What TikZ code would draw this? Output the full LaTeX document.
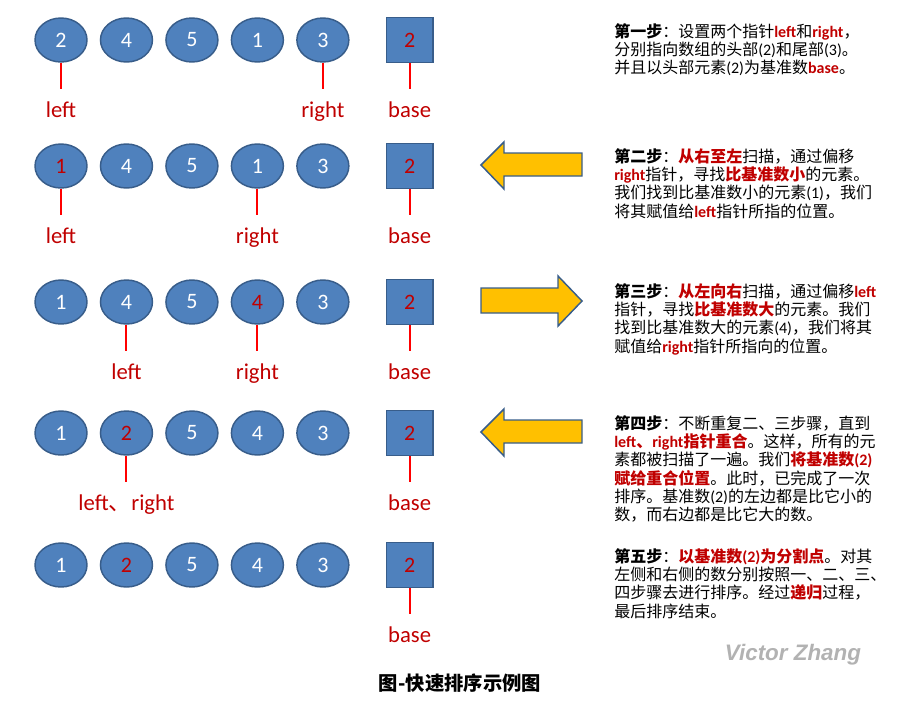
\documentclass[tikz,border=0pt]{standalone}
\usepackage{fontspec}
\usepackage{xcolor}
\usepackage{tikz}
\setmainfont{Carlito}
\newfontfamily\cjk{Noto Sans CJK SC}
\newfontfamily\markfont{Liberation Sans}
\definecolor{elemfill}{RGB}{79, 129, 189}
\definecolor{elemline}{RGB}{56, 93, 138}
\definecolor{hot}{RGB}{192, 0, 0}
\definecolor{ptrred}{RGB}{255, 0, 0}
\definecolor{arrowfill}{RGB}{255, 192, 0}
\usetikzlibrary{shapes,positioning}
\newcommand\lat[1]{{\rmfamily #1}}
\newcommand\redb[1]{{\color{hot}\bfseries #1}}

\tikzset{
    elem/.style={ellipse, draw=elemline, fill=elemfill, line width=1.1pt, minimum width=39pt, minimum height=33pt, inner sep=0pt, text=white, font=\fontsize{16.5pt}{19pt}\selectfont},
    pivot/.style={rectangle, draw=elemline, fill=elemfill, line width=1.1pt, minimum width=35pt, minimum height=34pt, inner sep=0pt, text=hot, font=\fontsize{16.5pt}{19pt}\selectfont},
    tag/.style={text=hot, inner sep=0pt, text height=14.25pt, text depth=4pt, font=\fontsize{17pt}{20pt}\selectfont},
    ptr/.style={draw=ptrred, line width=1.5pt, shorten >=6.75pt},
    bigarrow/.style={fill=arrowfill, draw=elemline, line width=1.1pt},
    note/.style={anchor=north west, inner sep=0pt, align=left, font=\cjk\fontsize{12pt}{13.75pt}\selectfont}
}

\begin{document}
\begin{tikzpicture}[x=0.75pt, y=-0.75pt, node distance=9pt]
    \useasboundingbox (0,0) rectangle (913,707);

    % step 1
    \node[elem] (a1) at (61,40) {2};
    \node[elem, right=of a1] (a2) {4};
    \node[elem, right=of a2] (a3) {5};
    \node[elem, right=of a3] (a4) {1};
    \node[elem, right=of a4] (a5) {3};
    \node[pivot, right=27pt of a5] (a6) {2};
    \node[tag, below=26.25pt of a1] (aleft) {left};
    \node[tag, below=26.25pt of a5] (aright) {right};
    \node[tag, below=26.25pt of a6] (abase) {base};
    \draw[ptr] (a1) -- (aleft);
    \draw[ptr] (a5) -- (aright);
    \draw[ptr] (a6) -- (abase);

    % step 2
    \node[elem] (b1) at (61,166) {\textcolor{hot}{1}};
    \node[elem, right=of b1] (b2) {4};
    \node[elem, right=of b2] (b3) {5};
    \node[elem, right=of b3] (b4) {1};
    \node[elem, right=of b4] (b5) {3};
    \node[pivot, right=27pt of b5] (b6) {2};
    \node[tag, below=26.25pt of b1] (bleft) {left};
    \node[tag, below=26.25pt of b4] (bright) {right};
    \node[tag, below=26.25pt of b6] (bbase) {base};
    \draw[ptr] (b1) -- (bleft);
    \draw[ptr] (b4) -- (bright);
    \draw[ptr] (b6) -- (bbase);

    % step 3
    \node[elem] (c1) at (61,302) {1};
    \node[elem, right=of c1] (c2) {4};
    \node[elem, right=of c2] (c3) {5};
    \node[elem, right=of c3] (c4) {\textcolor{hot}{4}};
    \node[elem, right=of c4] (c5) {3};
    \node[pivot, right=27pt of c5] (c6) {2};
    \node[tag, below=26.25pt of c2] (cleft) {left};
    \node[tag, below=26.25pt of c4] (cright) {right};
    \node[tag, below=26.25pt of c6] (cbase) {base};
    \draw[ptr] (c2) -- (cleft);
    \draw[ptr] (c4) -- (cright);
    \draw[ptr] (c6) -- (cbase);

    % step 4
    \node[elem] (d1) at (61,433) {1};
    \node[elem, right=of d1] (d2) {\textcolor{hot}{2}};
    \node[elem, right=of d2] (d3) {5};
    \node[elem, right=of d3] (d4) {4};
    \node[elem, right=of d4] (d5) {3};
    \node[pivot, right=27pt of d5] (d6) {2};
    \node[tag, below=26.25pt of d2] (dboth) {left{\cjk 、}right};
    \node[tag, below=26.25pt of d6] (dbase) {base};
    \draw[ptr] (d2) -- (dboth);
    \draw[ptr] (d6) -- (dbase);

    % step 5
    \node[elem] (e1) at (61,565) {1};
    \node[elem, right=of e1] (e2) {\textcolor{hot}{2}};
    \node[elem, right=of e2] (e3) {5};
    \node[elem, right=of e3] (e4) {4};
    \node[elem, right=of e4] (e5) {3};
    \node[pivot, right=27pt of e5] (e6) {2};
    \node[tag, below=26.25pt of e6] (ebase) {base};
    \draw[ptr] (e6) -- (ebase);

    % scan direction arrows
    \draw[bigarrow] (481,165) -- (504,142) -- (504,153) -- (582,153) -- (582,176) -- (504,176) -- (504,189) -- cycle;
    \draw[bigarrow] (582,301) -- (558,276) -- (558,288) -- (481,288) -- (481,313) -- (558,313) -- (558,326) -- cycle;
    \draw[bigarrow] (481,432) -- (504,409) -- (504,420) -- (582,420) -- (582,443) -- (504,443) -- (504,456) -- cycle;

    % notes
    \node[note] (n1) at (614,23) {\textbf{第一步}：设置两个指针\redb{\lat{left}}和\redb{\lat{right}}，\\
        分别指向数组的头部\lat{(2)}和尾部\lat{(3)}。\\
        并且以头部元素\lat{(2)}为基准数\redb{\lat{base}}。};
    \node[note] (n2) at (614,148) {\textbf{第二步}：\redb{从右至左}扫描，通过偏移\\
        \redb{\lat{right}}指针，寻找\redb{比基准数小}的元素。\\
        我们找到比基准数小的元素\lat{(1)}，我们\\
        将其赋值给\redb{\lat{left}}指针所指的位置。};
    \node[note] (n3) at (614,283) {\textbf{第三步}：\redb{从左向右}扫描，通过偏移\redb{\lat{left}}\\
        指针，寻找\redb{比基准数大}的元素。我们\\
        找到比基准数大的元素\lat{(4)}，我们将其\\
        赋值给\redb{\lat{right}}指针所指向的位置。};
    \node[note] (n4) at (614,415) {\textbf{第四步}：不断重复二、三步骤，直到\\
        \redb{\lat{left}、\lat{right}指针重合}。这样，所有的元\\
        素都被扫描了一遍。我们\redb{将基准数\lat{(2)}}\\
        \redb{赋给重合位置}。此时，已完成了一次\\
        排序。基准数\lat{(2)}的左边都是比它小的\\
        数，而右边都是比它大的数。};
    \node[note] (n5) at (614,548) {\textbf{第五步}：\redb{以基准数\lat{(2)}为分割点}。对其\\
        左侧和右侧的数分别按照一、二、三、\\
        四步骤去进行排序。经过\redb{递归}过程，\\
        最后排序结束。};

    \node[anchor=base, text=gray!60, font=\markfont\bfseries\itshape\fontsize{16.8pt}{18pt}\selectfont] (mark) at (793,660) {Victor Zhang};
    \node[font=\cjk\bfseries\fontsize{14.5pt}{16pt}\selectfont] (caption) at (460,683) {图-快速排序示例图};
\end{tikzpicture}
\end{document}
